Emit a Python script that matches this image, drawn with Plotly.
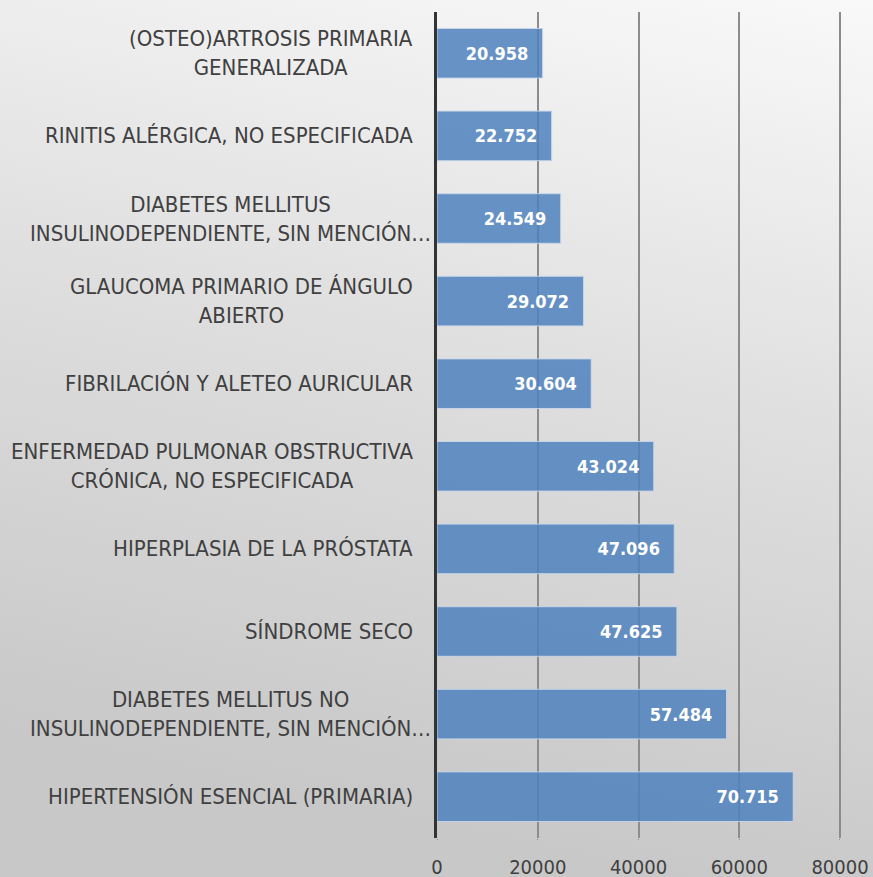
import plotly.graph_objects as go
import urllib.parse

categories = [
    "(OSTEO)ARTROSIS PRIMARIA<br>GENERALIZADA",
    "RINITIS ALÉRGICA, NO ESPECIFICADA",
    "DIABETES MELLITUS<br>INSULINODEPENDIENTE, SIN MENCIÓN…",
    "GLAUCOMA PRIMARIO DE ÁNGULO<br>ABIERTO",
    "FIBRILACIÓN Y ALETEO AURICULAR",
    "ENFERMEDAD PULMONAR OBSTRUCTIVA<br>CRÓNICA, NO ESPECIFICADA",
    "HIPERPLASIA DE LA PRÓSTATA",
    "SÍNDROME SECO",
    "DIABETES MELLITUS NO<br>INSULINODEPENDIENTE, SIN MENCIÓN…",
    "HIPERTENSIÓN ESENCIAL (PRIMARIA)",
]
values = [20958, 22752, 24549, 29072, 30604, 43024, 47096, 47625, 57484, 70715]
tick_values = [0, 20000, 40000, 60000, 80000]
tick_text = ["0", "20000", "40000", "60000", "80000"]

FONT = "DejaVu Sans Condensed, Liberation Sans Narrow, Arial Narrow, sans-serif"

W, H = 873, 877
ML, MR, MT, MB = 437, 32, 12, 39
pw, ph = W - ML - MR, H - MT - MB

fig = go.Figure()
fig.add_trace(go.Bar(
    y=categories, x=values, orientation="h",
    marker=dict(color="rgba(79,129,189,0.85)",
                line=dict(color="rgba(200,215,235,0.9)", width=1)),
    texttemplate="%{x:,}\u2002\u2009", textposition="inside", insidetextanchor="end",
    textfont=dict(color="white", size=18, family=FONT, weight="bold"),
    width=0.6, cliponaxis=False,
))

svg = (
    "<svg xmlns='http://www.w3.org/2000/svg' width='873' height='877' viewBox='0 0 873 877' preserveAspectRatio='none'>"
    "<defs><linearGradient id='g' x1='1' y1='0' x2='0.78' y2='1'>"
    "<stop offset='0' stop-color='#f9f9f9'/>"
    "<stop offset='0.5' stop-color='#dedede'/>"
    "<stop offset='1' stop-color='#c8c8c8'/>"
    "</linearGradient></defs>"
    "<rect width='873' height='877' fill='url(#g)'/></svg>"
)
src = "data:image/svg+xml;charset=utf-8," + urllib.parse.quote(svg)

annotations = []
for cat in categories:
    shift = -4 if "…" in cat else -22
    annotations.append(dict(x=0, xref="paper", y=cat, yref="y", text=cat,
                            showarrow=False, xanchor="right", align="center",
                            xshift=shift,
                            font=dict(family=FONT, size=22, color="#404040")))

fig.update_layout(
    autosize=True,
    margin=dict(l=ML, r=MR, t=MT, b=MB, autoexpand=False),
    paper_bgcolor="#dedede", plot_bgcolor="rgba(0,0,0,0)",
    separators=",.",
    showlegend=False,
    images=[dict(source=src, xref="paper", yref="paper",
                 x=-ML / pw, y=1 + MT / ph, sizex=W / pw, sizey=H / ph,
                 xanchor="left", yanchor="top", sizing="stretch", layer="below")],
    annotations=annotations,
    xaxis=dict(range=[0, 80200], tickvals=tick_values, ticktext=tick_text,
               showgrid=True, gridcolor="#8c8c8c", gridwidth=1.5,
               ticks="outside", ticklen=1, tickcolor="#8c8c8c",
               ticklabelstandoff=10, ticklabeloverflow="allow",
               automargin=False,
               zeroline=False, showline=False,
               tickfont=dict(family=FONT, size=20, color="#404040")),
    yaxis=dict(autorange="reversed", showticklabels=False, automargin=False,
               showline=True, linecolor="#333333", linewidth=3,
               showgrid=False, ticks=""),
)

post = (
    "document.documentElement.style.margin='0';"
    "document.body.style.margin='0';"
    "document.body.style.overflow='hidden';"
    "document.documentElement.style.overflow='hidden';"
    "document.documentElement.style.background='linear-gradient(170deg,#f8f8f8 0%,#e0e0e0 50%,#c9c9c9 100%)';"
    "document.documentElement.style.minHeight='100%';"
    "document.body.style.background='transparent';"
    "window.dispatchEvent(new Event('resize'));"
)
fig.write_html("out.html", post_script=post, default_width="100vw", default_height="100vh",
               config={"displayModeBar": False, "responsive": True})
